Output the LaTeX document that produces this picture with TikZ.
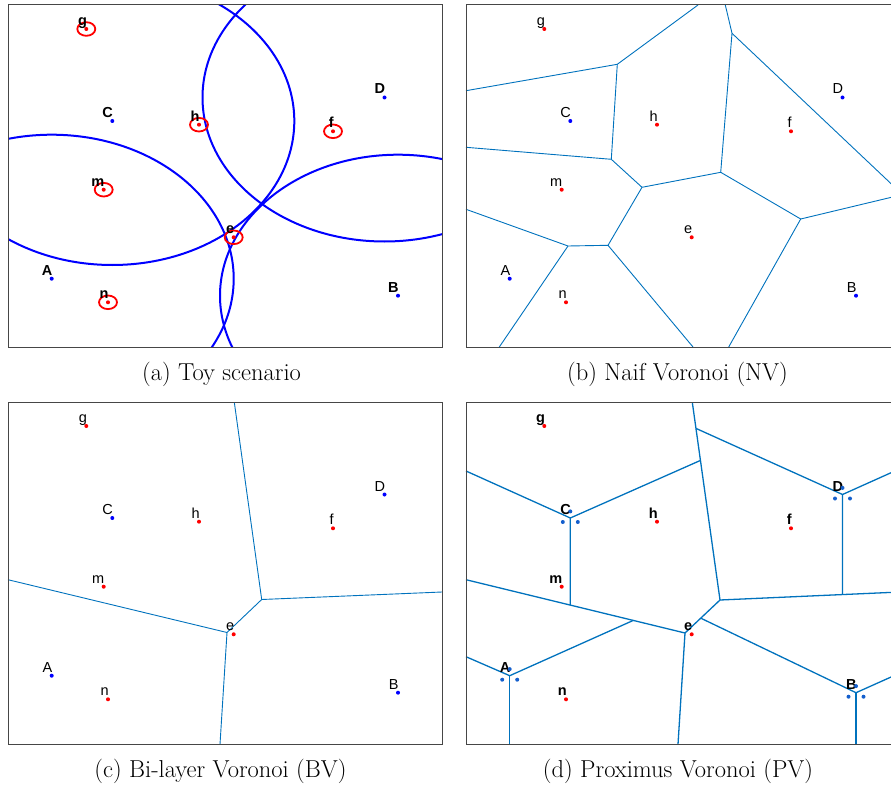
\documentclass[tikz,border=0pt]{standalone}
\usepackage{fontspec}
\newfontfamily\lblfont{Liberation Sans}
\usetikzlibrary{calc}
\definecolor{mblue}{RGB}{0,114,189}
\definecolor{dblue}{RGB}{20,95,205}
\definecolor{framegray}{RGB}{70,70,70}
\tikzset{
  panelframe/.style={draw=framegray,line width=1pt},
  vline/.style={draw=mblue,line width=0.9pt,line join=round},
  pvline/.style={draw=mblue,line width=1.3pt,line join=round},
  circ/.style={draw=blue,line width=2pt},
  ring/.style={draw=red,line width=1.8pt},
  pdot/.style={circle,inner sep=0pt,minimum size=4pt,draw=none},
  lbl/.style={anchor=base east,inner sep=0pt,font=\lblfont\fontsize{14.5}{14.5}\selectfont},
  blbl/.style={anchor=base east,inner sep=0pt,font=\lblfont\bfseries\fontsize{14.5}{14.5}\selectfont},
  capt/.style={anchor=base,inner sep=0pt,font=\fontsize{24.5}{29}\selectfont}
}
\begin{document}
\begin{tikzpicture}[x=1pt,y=-1pt]
\useasboundingbox (0,0) rectangle (891,789);
\clip (0,0) rectangle (891,789);

% ================= (a) Toy scenario =================
\coordinate (aA) at (51.7,278.7);
\coordinate (aB) at (398,295.7);
\coordinate (aC) at (112.3,121);
\coordinate (aD) at (384.5,97.5);
\begin{scope}
  \clip (8,5) rectangle (442,347);
  \draw[circ] (aA) ellipse [x radius=182pt, y radius=144pt];
  \draw[circ] (aC) ellipse [x radius=182pt, y radius=144pt];
  \draw[circ] (aD) ellipse [x radius=182pt, y radius=144pt];
  \draw[circ] (aB) ellipse [x radius=178pt, y radius=141pt];
\end{scope}
\draw[panelframe] (8,5) rectangle (442,347);
\foreach \nm/\px/\py in {e/233.7/237.3, f/333/131.3, g/86.3/29, h/199/124.7, m/103.7/189.7, n/108/302.3}{
  \draw[ring] (\px,\py) ellipse [x radius=9pt, y radius=6.8pt];
}
\foreach \nm/\px/\py/\cl in {A/51.7/278.7/blue, B/398/295.7/blue, C/112.3/121/blue, D/384.5/97.5/blue,
  e/233.7/237.3/red, f/333/131.3/red, g/86.3/29/red, h/199/124.7/red, m/103.7/189.7/red, n/108/302.3/red}{
  \node[blbl] (a\nm-l) at (\px+0.8,\py-3.5) {\nm};
  \node[pdot,fill=\cl] (a\nm-p) at (\px,\py) {};
}
\node[capt] (capa) at (221.5,380) {(a) Toy scenario};

% ================= (b) Naif Voronoi =================
\coordinate (bV1) at (617.3,64.3);
\coordinate (bV2) at (732,33.3);
\coordinate (bV3) at (611.3,159.3);
\coordinate (bV4) at (642,187.3);
\coordinate (bV5) at (720.7,172.3);
\coordinate (bV6) at (800.7,219);
\coordinate (bV7) at (568,246);
\coordinate (bV8) at (608,245.3);
\coordinate (bV9) at (902.6,194.6);
\coordinate (bT1) at (698,5);
\coordinate (bT2) at (725.3,5);
\coordinate (bL1) at (466,90.7);
\coordinate (bL2) at (466,147.3);
\coordinate (bL3) at (466,209.3);
\coordinate (bB1) at (499.3,347);
\coordinate (bB2) at (693,347);
\coordinate (bB3) at (728.7,347);
\draw[vline] (bT1) -- (bV1) -- (bL1);
\draw[vline] (bV1) -- (bV3) -- (bL2);
\draw[vline] (bT2) -- (bV2) -- (bV5) -- (bV4) -- (bV3);
\draw[vline] (bV2) -- (bV9) -- (bV6) -- (bV5);
\draw[vline] (bV4) -- (bV8) -- (bV7) -- (bL3);
\draw[vline] (bV7) -- (bB1);
\draw[vline] (bV8) -- (bB2);
\draw[vline] (bV6) -- (bB3);
\draw[panelframe] (466,5) rectangle (900,347);
\begin{scope}[shift={(458,0)}]
\foreach \nm/\px/\py/\cl in {A/51.7/278.7/blue, B/398/295.7/blue, C/112.3/121/blue, D/384.5/97.5/blue,
  e/233.7/237.3/red, f/333/131.3/red, g/86.3/29/red, h/199/124.7/red, m/103.7/189.7/red, n/108/302.3/red}{
  \node[lbl] (b\nm-l) at (\px+0.8,\py-3.5) {\nm};
  \node[pdot,fill=\cl] (b\nm-p) at (\px,\py) {};
}
\end{scope}
\node[capt] (capb) at (677.5,380) {(b) Naif Voronoi (NV)};

% ================= (c) Bi-layer Voronoi =================
\coordinate (cTop) at (234.3,402.3);
\coordinate (cW1) at (261.7,599.5);
\coordinate (cR) at (442,592);
\coordinate (cW2) at (227,632.5);
\coordinate (cL) at (8,579.7);
\coordinate (cBot) at (220,744.3);
\draw[vline] (cTop) -- (cW1) -- (cR);
\draw[vline] (cW1) -- (cW2) -- (cL);
\draw[vline] (cW2) -- (cBot);
\draw[panelframe] (8,402) rectangle (442,744);
\begin{scope}[shift={(0,397)}]
\foreach \nm/\px/\py/\cl in {A/51.7/278.7/blue, B/398/295.7/blue, C/112.3/121/blue, D/384.5/97.5/blue,
  e/233.7/237.3/red, f/333/131.3/red, g/86.3/29/red, h/199/124.7/red, m/103.7/189.7/red, n/108/302.3/red}{
  \node[lbl] (c\nm-l) at (\px+0.8,\py-3.5) {\nm};
  \node[pdot,fill=\cl] (c\nm-p) at (\px,\py) {};
}
\end{scope}
\node[capt] (capc) at (220.5,777) {(c) Bi-layer Voronoi (BV)};

% ================= (d) Proximus Voronoi =================
\coordinate (dTop) at (692.3,402.3);
\coordinate (dX3) at (720,600);
\coordinate (dR) at (900,592);
\coordinate (dX4) at (685,633);
\coordinate (dL) at (466,579.7);
\coordinate (dBot) at (678,744.3);
\coordinate (dX1) at ($(dTop)!0.132!(dX3)$);
\coordinate (dX2) at ($(dTop)!0.294!(dX3)$);
\coordinate (dX5) at ($(dX3)!0.55!(dX4)$);
\coordinate (dCv) at (570.3,518);
\coordinate (dDv) at (842.5,494.5);
\coordinate (dAv) at (509.7,675.7);
\coordinate (dBv) at (856,692.7);
\coordinate (dCL) at (466,471);
\coordinate (dDR) at (900,468.7);
\coordinate (dAL) at (466,656.7);
\coordinate (dBR) at (900,673);
\coordinate (dAB) at (509.7,744.3);
\coordinate (dBB) at (856,744.3);
\coordinate (dCd) at (intersection of dCv--{570.3,700} and dL--dX4);
\coordinate (dDd) at (intersection of dDv--{842.5,700} and dX3--dR);
\coordinate (dJ1) at (intersection of dAv--{630.3,621.7} and dL--dX4);
\draw[pvline] (dTop) -- (dX1) -- (dX2) -- (dX3) -- (dR);
\draw[pvline] (dX3) -- (dX5) -- (dX4) -- (dL);
\draw[pvline] (dX4) -- (dBot);
\draw[pvline] (dX2) -- (dCv) -- (dCL);
\draw[pvline] (dCv) -- (dCd);
\draw[pvline] (dX1) -- (dDv) -- (dDR);
\draw[pvline] (dDv) -- (dDd);
\draw[pvline] (dAL) -- (dAv) -- (dJ1);
\draw[pvline] (dAv) -- (dAB);
\draw[pvline] (dX5) -- (dBv) -- (dBR);
\draw[pvline] (dBv) -- (dBB);
\draw[panelframe] (466,402) rectangle (900,744);
\begin{scope}[shift={(458,397)}]
\foreach \nm/\px/\py in {A/51.7/278.7, B/398/295.7, C/112.3/121, D/384.5/97.5}{
  \node[blbl] (d\nm-l) at (\px+0.8,\py-3.5) {\nm};
  \node[pdot,fill=dblue] (d\nm-p1) at (\px,\py-6.6) {};
  \node[pdot,fill=dblue] (d\nm-p2) at (\px-7.5,\py+4) {};
  \node[pdot,fill=dblue] (d\nm-p3) at (\px+7.5,\py+4) {};
}
\foreach \nm/\px/\py in {e/233.7/237.3, f/333/131.3, g/86.3/29, h/199/124.7, m/103.7/189.7, n/108/302.3}{
  \node[blbl] (d\nm-l) at (\px+0.8,\py-3.5) {\nm};
  \node[pdot,fill=red] (d\nm-p) at (\px,\py) {};
}
\end{scope}
\node[capt] (capd) at (678,777) {(d) Proximus Voronoi (PV)};
\end{tikzpicture}
\end{document}
